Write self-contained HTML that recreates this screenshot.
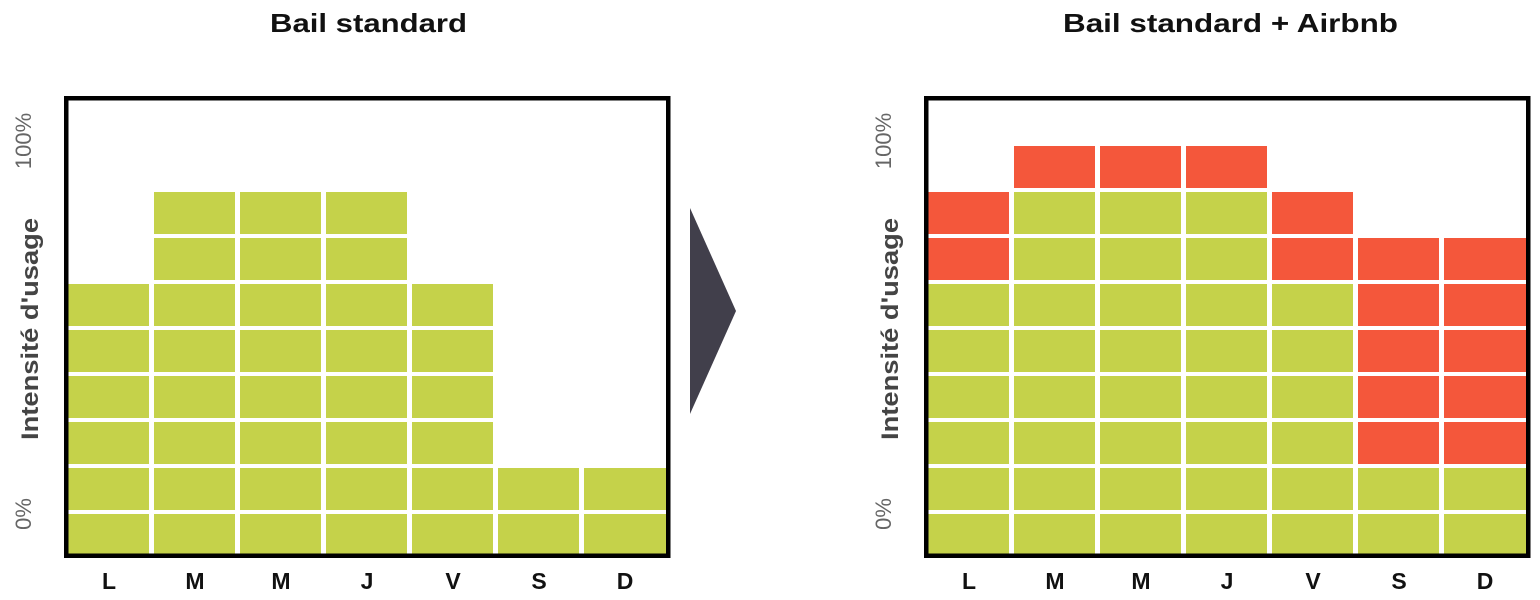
<!DOCTYPE html>
<html><head><meta charset="utf-8"><style>html,body{margin:0;padding:0;background:#fff}svg{display:block}</style></head><body>
<svg width="1540" height="600" xmlns="http://www.w3.org/2000/svg" font-family="Liberation Sans, sans-serif">
<text x="270" y="32" font-size="26" font-weight="bold" fill="#111" textLength="197" lengthAdjust="spacingAndGlyphs">Bail standard</text>
<text x="1063" y="32" font-size="26" font-weight="bold" fill="#111" textLength="335" lengthAdjust="spacingAndGlyphs">Bail standard + Airbnb</text>
<polygon points="690,208 736,311 690,414" fill="#413f4b"/>

<!-- left chart -->
<g fill="#c5d24a">
<rect x="68" y="284" width="81" height="272"/>
<rect x="154" y="192" width="81" height="364"/>
<rect x="240" y="192" width="81" height="364"/>
<rect x="326" y="192" width="81" height="364"/>
<rect x="412" y="284" width="81" height="272"/>
<rect x="498" y="468" width="81" height="88"/>
<rect x="584" y="468" width="82" height="88"/>
</g>
<g fill="#fff">
<rect x="66" y="510" width="602" height="4"/><rect x="66" y="464" width="602" height="4"/>
<rect x="66" y="418" width="602" height="4"/><rect x="66" y="372" width="602" height="4"/>
<rect x="66" y="326" width="602" height="4"/><rect x="66" y="280" width="602" height="4"/>
<rect x="66" y="234" width="602" height="4"/><rect x="66" y="188" width="602" height="4"/>
</g>
<rect x="66.25" y="98.25" width="602" height="457.5" fill="none" stroke="#000" stroke-width="4.5"/>
<g font-size="23" font-weight="bold" text-anchor="middle" fill="#111">
<text x="109" y="589">L</text><text x="195" y="589">M</text><text x="281" y="589">M</text><text x="367" y="589">J</text><text x="453" y="589">V</text><text x="539" y="589">S</text><text x="625" y="589">D</text>
</g>
<text transform="translate(31,141) rotate(-90)" font-size="22" text-anchor="middle" fill="#666">100%</text>
<text transform="translate(38,329) rotate(-90)" font-size="24" font-weight="bold" text-anchor="middle" fill="#444" textLength="222" lengthAdjust="spacingAndGlyphs">Intensité d'usage</text>
<text transform="translate(31,514) rotate(-90)" font-size="22" text-anchor="middle" fill="#666">0%</text>

<!-- right chart -->
<g fill="#c5d24a">
<rect x="928" y="284" width="81" height="272"/>
<rect x="1014" y="192" width="81" height="364"/>
<rect x="1100" y="192" width="81" height="364"/>
<rect x="1186" y="192" width="81" height="364"/>
<rect x="1272" y="284" width="81" height="272"/>
<rect x="1358" y="468" width="81" height="88"/>
<rect x="1444" y="468" width="82" height="88"/>
</g>
<g fill="#f4573b">
<rect x="928" y="192" width="81" height="92"/>
<rect x="1014" y="146" width="81" height="46"/>
<rect x="1100" y="146" width="81" height="46"/>
<rect x="1186" y="146" width="81" height="46"/>
<rect x="1272" y="192" width="81" height="92"/>
<rect x="1358" y="238" width="81" height="230"/>
<rect x="1444" y="238" width="82" height="230"/>
</g>
<g fill="#fff">
<rect x="926" y="510" width="602" height="4"/><rect x="926" y="464" width="602" height="4"/>
<rect x="926" y="418" width="602" height="4"/><rect x="926" y="372" width="602" height="4"/>
<rect x="926" y="326" width="602" height="4"/><rect x="926" y="280" width="602" height="4"/>
<rect x="926" y="234" width="602" height="4"/><rect x="926" y="188" width="602" height="4"/>
</g>
<rect x="926.25" y="98.25" width="602" height="457.5" fill="none" stroke="#000" stroke-width="4.5"/>
<g font-size="23" font-weight="bold" text-anchor="middle" fill="#111">
<text x="969" y="589">L</text><text x="1055" y="589">M</text><text x="1141" y="589">M</text><text x="1227" y="589">J</text><text x="1313" y="589">V</text><text x="1399" y="589">S</text><text x="1485" y="589">D</text>
</g>
<text transform="translate(891,141) rotate(-90)" font-size="22" text-anchor="middle" fill="#666">100%</text>
<text transform="translate(898,329) rotate(-90)" font-size="24" font-weight="bold" text-anchor="middle" fill="#444" textLength="222" lengthAdjust="spacingAndGlyphs">Intensité d'usage</text>
<text transform="translate(891,514) rotate(-90)" font-size="22" text-anchor="middle" fill="#666">0%</text>
</svg>
</body></html>
